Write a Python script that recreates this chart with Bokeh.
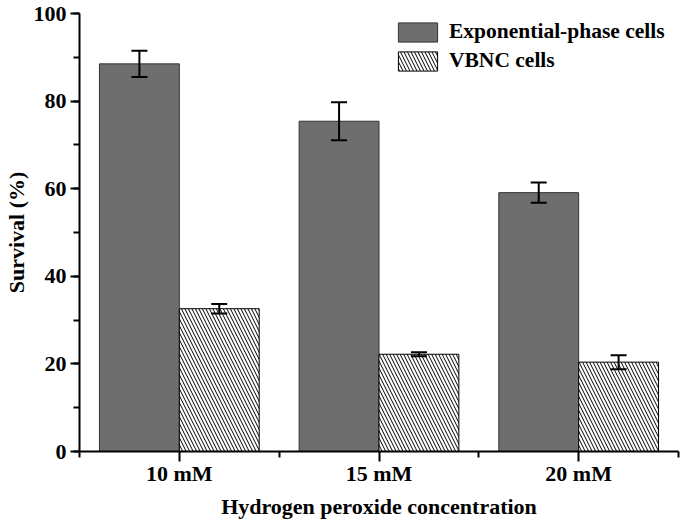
from bokeh.plotting import figure
from bokeh.models import (ColumnDataSource, Whisker, TeeHead, FixedTicker,
                          SingleIntervalTicker, Range1d, Legend, LegendItem)
from bokeh.embed import file_html
from bokeh.resources import INLINE

categories = ["10 mM", "15 mM", "20 mM"]
exp_mean = [88.5, 75.4, 59.1]
exp_err = [3.0, 4.35, 2.3]
vbnc_mean = [32.6, 22.2, 20.4]
vbnc_err = [1.1, 0.45, 1.6]

FONT = "Liberation Serif"
FS = "22px"

idx = list(range(1, len(categories) + 1))
off = 0.2
src = ColumnDataSource(dict(
    xe=[i - off for i in idx],
    xv=[i + off for i in idx],
    exp=exp_mean,
    vb=vbnc_mean,
    exp_hi=[m + e for m, e in zip(exp_mean, exp_err)],
    exp_lo=[m - e for m, e in zip(exp_mean, exp_err)],
    vb_hi=[m + e for m, e in zip(vbnc_mean, vbnc_err)],
    vb_lo=[m - e for m, e in zip(vbnc_mean, vbnc_err)],
))

p = figure(width=680, height=521, output_backend="svg", toolbar_location=None,
           x_range=Range1d(0.5, len(categories) + 0.5), y_range=Range1d(0, 100),
           min_border_top=13, min_border_right=2, min_border_left=0, min_border_bottom=0)
p.outline_line_color = None
p.xgrid.visible = False
p.ygrid.visible = False

r_exp = p.vbar(x="xe", top="exp", width=0.4, source=src, fill_color="#6e6e6e",
               line_color="#333333", line_width=1)
r_vb = p.vbar(x="xv", top="vb", width=0.4, source=src, fill_color="white",
              line_color="black", line_width=1, hatch_pattern="\\",
              hatch_color="black", hatch_weight=1, hatch_scale=7)

for base, hi, lo in (("xe", "exp_hi", "exp_lo"), ("xv", "vb_hi", "vb_lo")):
    w = Whisker(source=src, base=base, upper=hi, lower=lo, line_width=2, line_color="black",
                upper_head=TeeHead(size=16, line_width=2, line_color="black"),
                lower_head=TeeHead(size=16, line_width=2, line_color="black"),
                level="annotation")
    p.add_layout(w)

# axes
for ax in (p.xaxis[0], p.yaxis[0]):
    ax.axis_line_width = 2
    ax.axis_line_color = "black"
    ax.major_tick_line_width = 2
    ax.minor_tick_line_width = 2
    ax.major_tick_in = 0
    ax.minor_tick_in = 0
    ax.major_label_text_font = FONT
    ax.major_label_text_font_style = "bold"
    ax.major_label_text_font_size = FS
    ax.major_label_text_color = "black"
    ax.axis_label_text_font = FONT
    ax.axis_label_text_font_style = "bold"
    ax.axis_label_text_font_size = FS
    ax.axis_label_text_color = "black"

p.xaxis.ticker = FixedTicker(ticks=idx, minor_ticks=[i + 0.5 for i in [0] + idx])
p.xaxis.major_label_overrides = {i: c for i, c in zip(idx, categories)}
p.xaxis.major_tick_out = 10
p.xaxis.minor_tick_out = 6
p.xaxis.major_label_standoff = -1
p.xaxis.axis_label = "Hydrogen peroxide concentration"
p.xaxis.axis_label_standoff = 5

p.yaxis.ticker = SingleIntervalTicker(interval=20, num_minor_ticks=2)
p.yaxis.major_tick_out = 9
p.yaxis.minor_tick_out = 6
p.yaxis.major_label_standoff = 4
p.yaxis.axis_label = "Survival (%)"
p.yaxis.axis_label_standoff = 2

legend = Legend(items=[LegendItem(label="Exponential-phase cells", renderers=[r_exp]),
                       LegendItem(label="VBNC cells", renderers=[r_vb])],
                location=(314, 378), orientation="vertical")
legend.label_text_font = FONT
legend.label_text_font_style = "bold"
legend.label_text_font_size = "21.5px"
legend.label_text_color = "black"
legend.glyph_width = 49
legend.glyph_height = 24
legend.label_height = 24
legend.label_standoff = 7
legend.spacing = 4
legend.padding = 0
legend.margin = 0
legend.border_line_color = None
legend.background_fill_alpha = 0
p.add_layout(legend)

open("out.html", "w").write(file_html(p, INLINE))
